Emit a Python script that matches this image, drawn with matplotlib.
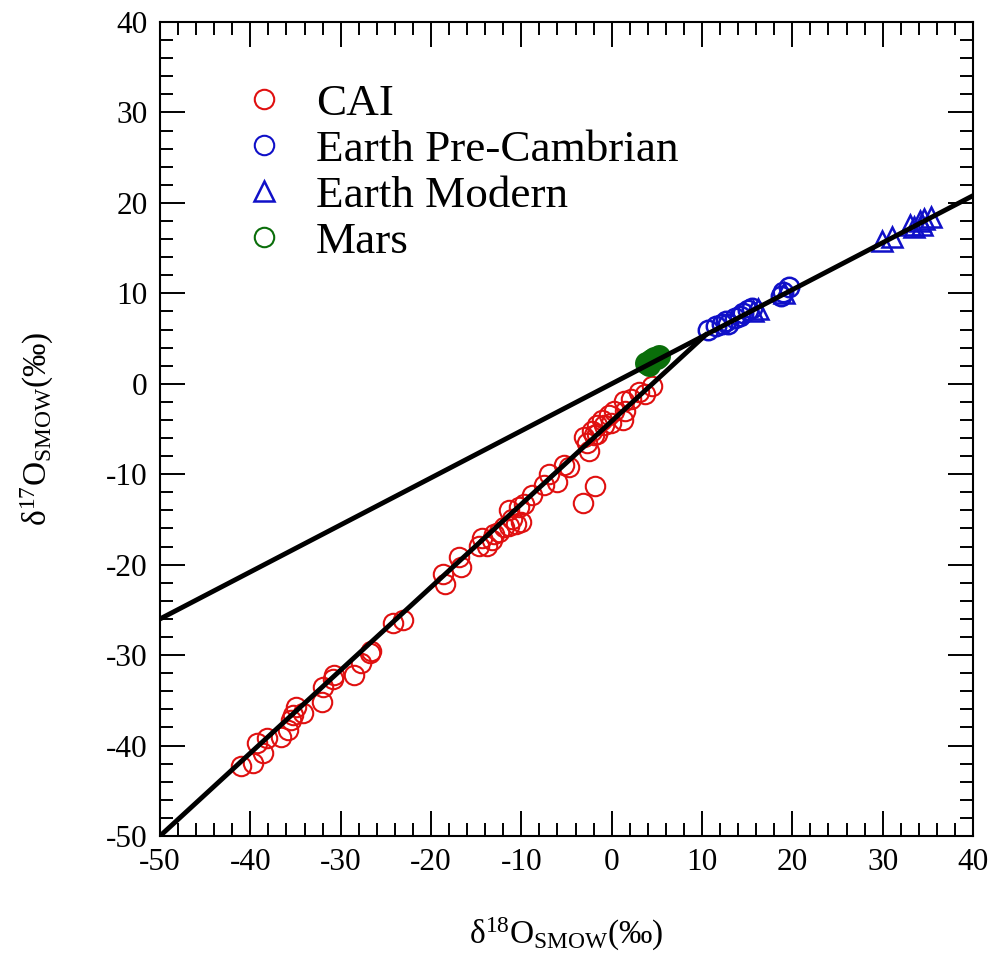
import matplotlib
matplotlib.use("Agg")
import matplotlib.pyplot as plt
from matplotlib.lines import Line2D

plt.rcParams["font.family"] = ["Liberation Serif", "DejaVu Serif"]
plt.rcParams["mathtext.fontset"] = "custom"
plt.rcParams["mathtext.rm"] = "Liberation Serif"
plt.rcParams["mathtext.it"] = "Liberation Serif:italic"
plt.rcParams["axes.unicode_minus"] = False

# oxygen isotope data (permil vs SMOW)
cai_d18 = [-41.0, -39.7, -39.3, -38.6, -38.2, -36.6, -35.8, -35.5, -35.3, -34.9,
           -34.2, -32.1, -32.0, -30.9, -30.7, -28.5, -27.7, -26.8, -26.6, -24.2,
           -23.1, -18.7, -18.5, -16.9, -16.7, -14.7, -14.3, -13.75, -13.2, -13.0,
           -12.5, -11.9, -11.35, -10.6, -10.06, -11.35, -11.0, -10.25, -9.7, -8.8,
           -7.5, -6.9, -6.0, -5.3, -4.7, -2.7, -2.5, -1.97, -1.6, -0.86,
           -0.12, 1.3, -3.07, -2.2, -1.6, -1.05, -0.3, 0.24, 1.35, 1.5,
           2.1, 3.0, 3.7, 4.47, -3.2, -1.85]
cai_d17 = [-42.3, -41.9, -39.7, -40.8, -39.2, -39.0, -38.3, -37.2, -36.6, -35.7,
           -36.4, -35.2, -33.5, -32.6, -32.2, -32.2, -30.9, -29.8, -29.6, -26.5,
           -26.1, -21.0, -22.1, -19.2, -20.3, -17.9, -17.1, -17.9, -17.3, -16.6,
           -16.4, -15.85, -15.7, -15.5, -15.3, -14.0, -14.9, -13.6, -13.3, -12.3,
           -11.2, -9.95, -10.9, -9.0, -9.2, -6.6, -7.4, -5.7, -5.5, -4.6,
           -4.3, -4.0, -5.9, -5.2, -4.6, -4.06, -3.5, -2.96, -1.85, -3.0,
           -1.67, -0.94, -1.1, -0.2, -13.2, -11.3]

precam_d18 = [10.7, 11.6, 12.2, 12.7, 12.9, 13.6, 14.2, 14.5, 15.1, 15.5, 18.7, 19.0, 19.6]
precam_d17 = [6.0, 6.4, 6.6, 6.9, 6.6, 7.3, 7.5, 7.8, 8.2, 8.4, 9.7, 10.2, 10.7]

modern_d18 = [15.6, 16.2, 19.1, 29.9, 31.0, 33.0, 33.5, 34.1, 34.4, 34.6, 35.4]
modern_d17 = [8.0, 8.3, 10.0, 15.8, 16.2, 17.6, 17.3, 18.0, 17.6, 18.2, 18.4]

mars_d18 = [3.8, 4.1, 4.4, 4.7, 5.0, 5.2]
mars_d17 = [2.3, 2.1, 2.6, 2.8, 2.9, 3.1]

# fractionation lines
tfl_x = [-50, 40]
tfl_y = [-26.0, 20.8]
ccam_x = [-50, 10.4]
ccam_y = [-50, 5.4]

red = "#e01010"
blue = "#1010c8"
green = "#0a6e0a"

fig = plt.figure(figsize=(10.04, 9.57), dpi=100)
ax = fig.add_axes([160 / 1004, 1 - 836 / 957, 813 / 1004, 814 / 957])

ax.plot(tfl_x, tfl_y, color="black", lw=3.5, zorder=3)
ax.plot(ccam_x, ccam_y, color="black", lw=3.5, zorder=3)

ax.plot(cai_d18, cai_d17, "o", ms=14, mfc="none", mec=red, mew=1.5, zorder=2)
ax.plot(precam_d18, precam_d17, "o", ms=14, mfc="none", mec=blue, mew=1.8, zorder=2)
ax.plot(modern_d18, modern_d17, "^", ms=14, mfc="none", mec=blue, mew=1.8, zorder=2)
ax.plot(mars_d18, mars_d17, "o", ms=15, mfc=green, mec=green, mew=1.5, zorder=2)

handles = [
    Line2D([], [], ls="none", marker="o", ms=14, mfc="none", mec=red, mew=1.5),
    Line2D([], [], ls="none", marker="o", ms=14, mfc="none", mec=blue, mew=1.5),
    Line2D([], [], ls="none", marker="^", ms=14, mfc="none", mec=blue, mew=1.8),
    Line2D([], [], ls="none", marker="o", ms=14, mfc="none", mec=green, mew=1.5),
]
labels = ["CAI", "Earth Pre-Cambrian", "Earth Modern", "Mars"]
ax.legend(handles, labels, loc="upper left", bbox_to_anchor=(0.1, 0.925),
          frameon=False, fontsize=32.5, handlelength=1.0, handletextpad=0.65,
          labelspacing=0.12, borderpad=0, borderaxespad=0)

ax.set_xlim(-50, 40)
ax.set_ylim(-50, 40)
ax.set_xticks(range(-50, 41, 10))
ax.set_yticks(range(-50, 41, 10))
ax.set_xticks(range(-50, 41, 2), minor=True)
ax.set_yticks(range(-50, 41, 2), minor=True)
ax.tick_params(which="both", direction="in", top=True, right=True, labelsize=22.5, pad=9)
ax.tick_params(which="major", length=18, width=1.4)
ax.tick_params(which="minor", length=9.5, width=1.4)
for s in ax.spines.values():
    s.set_linewidth(1.5)

ax.set_xlabel(r"δ$^{18}$O$_{\mathrm{SMOW}}$(‰)", fontsize=24, labelpad=28)
ax.set_ylabel(r"δ$^{17}$O$_{\mathrm{SMOW}}$(‰)", fontsize=24, labelpad=36)

fig.savefig("out.png", dpi=100)
